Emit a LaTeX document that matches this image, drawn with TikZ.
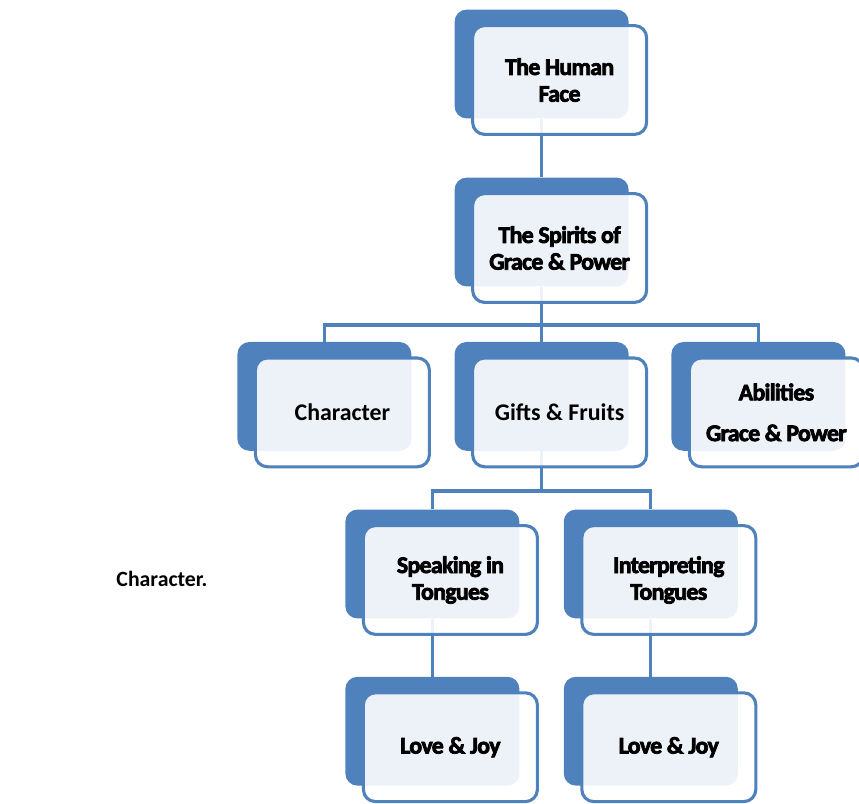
\documentclass[tikz,border=0pt]{standalone}
\usepackage{fontspec}
\setmainfont{Carlito}
\newfontfamily\heavyfont[FakeBold=3, LetterSpace=-3]{Carlito Bold}
\usepackage{xcolor}
\definecolor{smartblue}{HTML}{4F81BD}
\usetikzlibrary{positioning}

\begin{document}
\begin{tikzpicture}[
    back/.style={rectangle, rounded corners=0.3cm, fill=smartblue,
      minimum width=4.35cm, minimum height=2.72cm, inner sep=0pt},
    front/.style={rectangle, rounded corners=0.3cm, draw=smartblue, line width=2.2pt,
      fill=white, fill opacity=0.9, text opacity=1, align=center,
      minimum width=4.35cm, minimum height=2.72cm, inner sep=0pt,
      font=\fontsize{17}{19}\selectfont\bfseries},
    heavy/.style={font=\fontsize{17}{19}\selectfont\heavyfont},
    link/.style={draw=smartblue, line width=2.2pt}
  ]
      \useasboundingbox (0, 0) rectangle (21.475, -20.1);
      % blue back plates
      \node [back] (face) at (13.54, -1.6) {};
      \node [back] (spirits) at (13.54, -5.8) {};
      \node [back] (character) at (8.11, -9.91) {};
      \node [back] (gifts) at (13.54, -9.91) {};
      \node [back] (abilities) at (18.96, -9.91) {};
      \node [back] (speaking) at (10.81, -14.1) {};
      \node [back] (interpreting) at (16.27, -14.1) {};
      \node [back] (love1) at (10.81, -18.28) {};
      \node [back] (love2) at (16.27, -18.28) {};
      % connectors
      \coordinate (bar1) at (13.54, -8.125);
      \coordinate (bar2) at (13.54, -12.275);
      \draw [link] (face.south) -- (spirits.north);
      \draw [link] (spirits.south) -- (bar1);
      \draw [link] (character.north) |- (bar1) -| (abilities.north);
      \draw [link] (bar1) -- (gifts.north);
      \draw [link] (gifts.south) -- (bar2);
      \draw [link] (speaking.north) |- (bar2) -| (interpreting.north);
      \draw [link] (speaking.south) -- (love1.north);
      \draw [link] (interpreting.south) -- (love2.north);
      % front cards
      \node [front, heavy] (face-t) at ([shift={(0.45,-0.4)}]face) {The Human\\Face};
      \node [front, heavy] (spirits-t) at ([shift={(0.45,-0.4)}]spirits) {The Spirits of\\Grace \& Power};
      \node [front] (character-t) at ([shift={(0.45,-0.4)}]character) {Character};
      \node [front] (gifts-t) at ([shift={(0.45,-0.4)}]gifts) {Gifts \& Fruits};
      \node [front, heavy] (abilities-t) at ([shift={(0.45,-0.4)}]abilities) {Abilities\\[0.35cm]Grace \& Power};
      \node [front, heavy] (speaking-t) at ([shift={(0.45,-0.4)}]speaking) {Speaking in\\Tongues};
      \node [front, heavy] (interpreting-t) at ([shift={(0.45,-0.4)}]interpreting) {Interpreting\\Tongues};
      \node [front, heavy] (love1-t) at ([shift={(0.45,-0.4)}]love1) {Love \& Joy};
      \node [front, heavy] (love2-t) at ([shift={(0.45,-0.4)}]love2) {Love \& Joy};
      \node [font=\fontsize{15.5}{17}\selectfont\bfseries] (note) at (4.05, -14.48) {Character.};
    \end{tikzpicture}
\end{document}
